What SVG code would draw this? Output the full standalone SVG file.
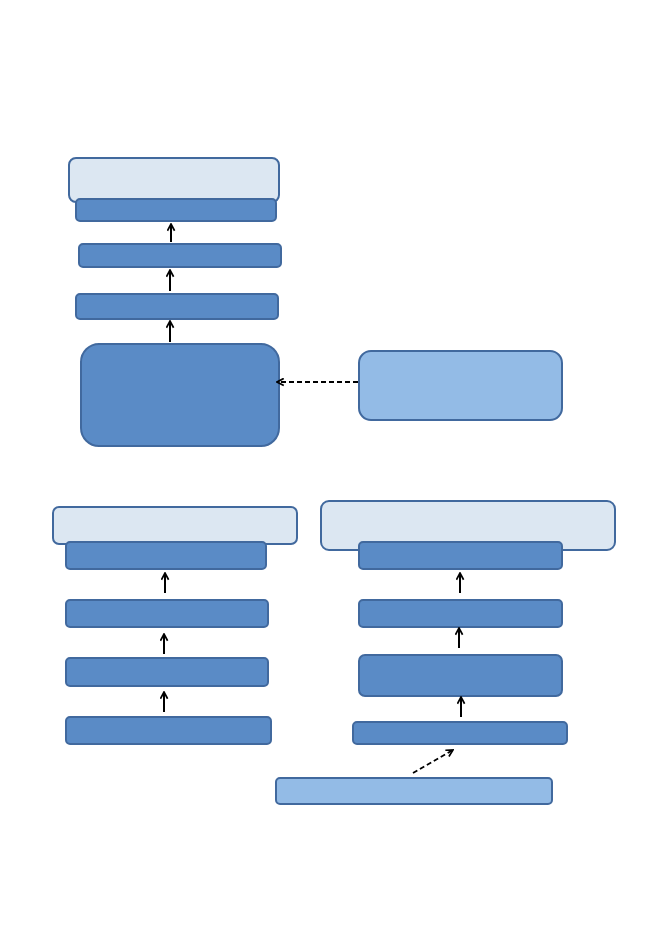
<svg xmlns="http://www.w3.org/2000/svg" width="661" height="933" viewBox="0 0 661 933">
<defs>
<style>
.c{fill:#DCE7F2;stroke:#41699E;stroke-width:2}
.d{fill:#5A8BC6;stroke:#41699E;stroke-width:2}
.l{fill:#93BBE6;stroke:#41699E;stroke-width:2}
.a{fill:none;stroke:#000;stroke-width:2;marker-end:url(#ah)}
.s{fill:none;stroke:#000;stroke-width:1.8;stroke-dasharray:5,3;marker-end:url(#ah)}
</style>
<marker id="ah" viewBox="0 0 10 10" refX="9" refY="5" markerWidth="9" markerHeight="9" orient="auto" markerUnits="userSpaceOnUse">
<path d="M1.5,1 L9,5 L1.5,9" fill="none" stroke="#000" stroke-width="1.9"/>
</marker>
</defs>
<rect width="661" height="933" fill="#fff"/>
<g id="n1"><rect class="c" x="69" y="158" width="210" height="44" rx="7"/></g>
<g id="n2"><rect class="d" x="76" y="199" width="200" height="22" rx="4"/></g>
<g id="n3"><rect class="d" x="79" y="244" width="202" height="23" rx="4"/></g>
<g id="n4"><rect class="d" x="76" y="294" width="202" height="25" rx="4"/></g>
<g id="n5"><rect class="d" x="81" y="344" width="198" height="102" rx="18"/></g>
<g id="n6"><rect class="l" x="359" y="351" width="203" height="69" rx="12"/></g>
<g id="n7"><rect class="c" x="53" y="507" width="244" height="37" rx="6"/></g>
<g id="n8"><rect class="d" x="66" y="542" width="200" height="27" rx="4"/></g>
<g id="n9"><rect class="d" x="66" y="600" width="202" height="27" rx="4"/></g>
<g id="n10"><rect class="d" x="66" y="658" width="202" height="28" rx="4"/></g>
<g id="n11"><rect class="d" x="66" y="717" width="205" height="27" rx="4"/></g>
<g id="n12"><rect class="c" x="321" y="501" width="294" height="49" rx="8"/></g>
<g id="n13"><rect class="d" x="359" y="542" width="203" height="27" rx="4"/></g>
<g id="n14"><rect class="d" x="359" y="600" width="203" height="27" rx="4"/></g>
<g id="n15"><rect class="d" x="359" y="655" width="203" height="41" rx="6"/></g>
<g id="n16"><rect class="d" x="353" y="722" width="214" height="22" rx="4"/></g>
<g id="n17"><rect class="l" x="276" y="778" width="276" height="26" rx="4"/></g>
<g id="connectors">
<line class="a" x1="171" y1="242" x2="171" y2="224"/>
<line class="a" x1="170" y1="291" x2="170" y2="270"/>
<line class="a" x1="170" y1="342" x2="170" y2="321"/>
<line class="s" x1="358" y1="382" x2="277" y2="382"/>
<line class="a" x1="165" y1="593" x2="165" y2="573"/>
<line class="a" x1="164" y1="654" x2="164" y2="634"/>
<line class="a" x1="164" y1="712" x2="164" y2="692"/>
<line class="a" x1="460" y1="593" x2="460" y2="573"/>
<line class="a" x1="459" y1="648" x2="459" y2="628"/>
<line class="a" x1="461" y1="717" x2="461" y2="697"/>
<line class="s" x1="413" y1="773" x2="453" y2="750"/>
</g>
</svg>
